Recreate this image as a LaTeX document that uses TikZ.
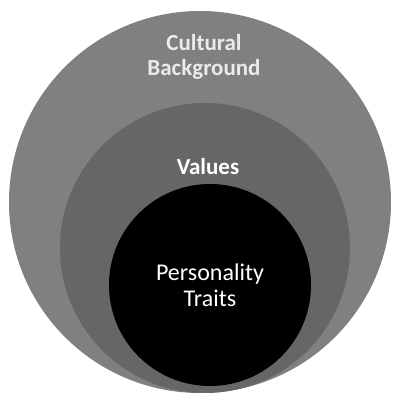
\documentclass[tikz,border=0pt]{standalone}
\usepackage{fontspec}
\setmainfont{Carlito}
\usetikzlibrary{positioning}

\begin{document}
\begin{tikzpicture}[x=1pt,y=1pt,
  ring/.style={circle,inner sep=0pt},
  ringlabel/.style={text=white,font=\fontsize{23}{25}\selectfont\bfseries,align=center}]
\useasboundingbox (0,0) rectangle (396,400);
% Three nested circles, innermost drawn last.
\node[ring,fill=black!50,minimum size=382] (culture) at (200,198) {};
\node[ring,fill=black!60,minimum size=290] (values) at (205,152) {};
\node[ring,fill=black,minimum size=202,text=white,align=center,
  font=\fontsize{24}{26}\selectfont] (traits) at (210,115) {Personality\\Traits};
% Labels of the two outer rings.
\node[ringlabel,text=white!92!black] (culturelabel) at (204,343) {Cultural\\Background};
\node[ringlabel] (valueslabel) at (208,233) {Values};
\end{tikzpicture}
\end{document}
